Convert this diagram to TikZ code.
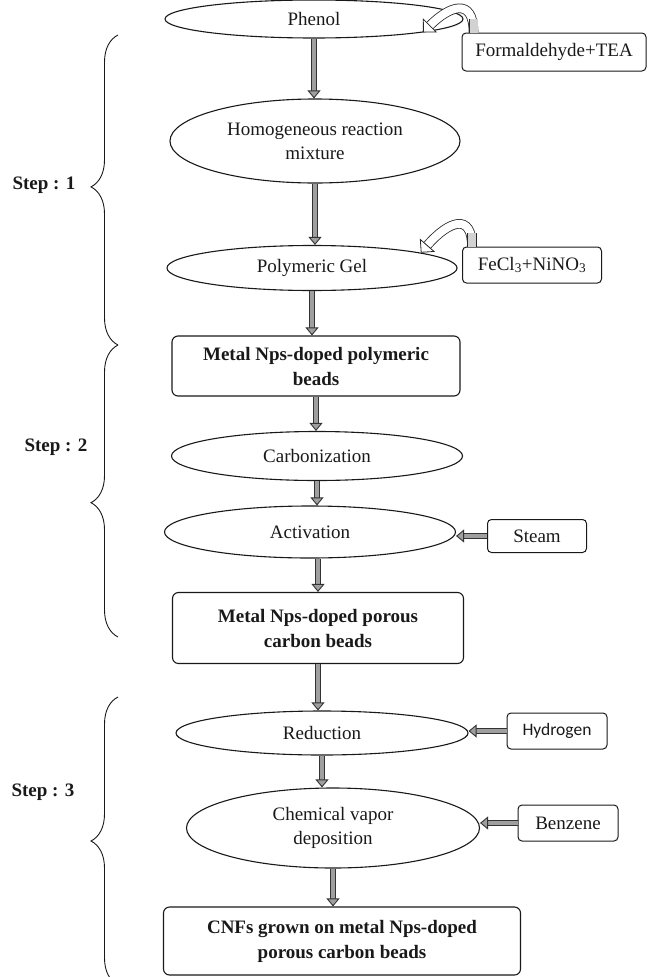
\documentclass[tikz,border=0pt]{standalone}
\usepackage{fontspec}
\setmainfont{Liberation Serif}
\newfontfamily\calibrifont{Carlito}
\usetikzlibrary{shapes.geometric,arrows.meta,decorations.pathreplacing,calc}

\begin{document}
\begin{tikzpicture}[x=1pt,y=-1pt,
  every node/.style={font=\fontsize{19}{24}\selectfont,text=black!90,align=center},
  oval/.style={ellipse,draw=black!90,line width=1.1pt,inner sep=0pt},
  stage/.style={draw=black!90,rounded corners=6pt,line width=1.1pt,inner sep=0pt,font=\fontsize{19}{25}\selectfont\bfseries},
  feed/.style={draw=black!90,rounded corners=4pt,line width=1pt,inner sep=0pt},
  flow/.style={draw=black!80,line width=0.9pt,double=gray!75,double distance=4.5pt,-{Triangle[length=8pt,width=13pt,fill=gray!75]}},
  curl/.style={draw=black!85,line width=0.8pt,double=white,double distance=8pt,-{Triangle[length=10pt,width=20pt,fill=white]}},
  curlback/.style={draw=black!85,line width=0.8pt,double=gray!35,double distance=8pt},
  stepbrace/.style={decorate,decoration={brace,amplitude=27pt},line width=0.9pt,draw=black!90},
  steplabel/.style={font=\fontsize{19}{24}\selectfont\bfseries}]
\useasboundingbox (0,0) rectangle (648,977);

% step 1
\node[oval,minimum width=298pt,minimum height=38pt] (phenol) at (314,19) {Phenol};
\node[feed,minimum width=184pt,minimum height=38pt] (fta) at (554,52) {Formaldehyde+TEA};
\node[oval,minimum width=290pt,minimum height=84pt] (homog) at (315,141) {Homogeneous reaction\\mixture};
\node[oval,minimum width=290pt,minimum height=45pt] (gel) at (312,268) {Polymeric Gel};
\node[feed,minimum width=139pt,minimum height=36pt] (fecl) at (532,265) {FeCl\textsubscript{3}+NiNO\textsubscript{3}};
\node[stage,minimum width=288pt,minimum height=60pt] (polybeads) at (316,366) {Metal Nps-doped polymeric\\beads};

% step 2
\node[oval,minimum width=291pt,minimum height=49pt] (carbon) at (317,456) {Carbonization};
\node[oval,minimum width=291pt,minimum height=52pt] (activ) at (310,532) {Activation};
\node[feed,minimum width=99pt,minimum height=33pt] (steam) at (537,536) {Steam};
\node[stage,minimum width=291pt,minimum height=71pt] (porbeads) at (318,628) {Metal Nps-doped porous\\carbon beads};

% step 3
\node[oval,minimum width=292pt,minimum height=44pt] (reduc) at (322,733) {Reduction};
\node[feed,minimum width=100pt,minimum height=36pt,font=\calibrifont\fontsize{17.5}{20}\selectfont] (hydro) at (557,731) {Hydrogen};
\node[oval,minimum width=293pt,minimum height=80pt] (cvd) at (333,828) {Chemical vapor\\deposition};
\node[feed,minimum width=100pt,minimum height=36pt] (benz) at (568,823) {Benzene};
\node[stage,minimum width=357pt,minimum height=68pt] (cnf) at (342,941) {CNFs grown on metal Nps-doped\\porous carbon beads};

\node[steplabel] (stepa) at (44,185) {Step : 1};
\node[steplabel] (stepb) at (56,447) {Step : 2};
\node[steplabel] (stepc) at (43,792) {Step : 3};

\draw[stepbrace,decoration={aspect=0.51}] (118,345) -- (118,35);
\draw[stepbrace,decoration={aspect=0.46}] (118,637) -- (118,345);
\draw[stepbrace,decoration={aspect=0.50}] (118,985) -- (118,697);

\draw[flow] (phenol.south) -- (phenol.south |- homog.north);
\draw[flow] (homog.south) -- (homog.south |- gel.north);
\draw[flow] (gel.south) -- (gel.south |- polybeads.north);
\draw[flow] (polybeads.south) -- (polybeads.south |- carbon.north);
\draw[flow] (carbon.south) -- (carbon.south |- activ.north);
\draw[flow] (porbeads.north |- activ.south) -- (porbeads.north);
\draw[flow] (porbeads.south) -- (porbeads.south |- reduc.north);
\draw[flow] (reduc.south) -- (reduc.south |- cvd.north);
\draw[flow] (cvd.south) -- (cvd.south |- cnf.north);

\draw[flow] (steam.west) -- (steam.west -| activ.east);
\draw[flow] (hydro.west) -- (hydro.west -| reduc.east);
\draw[flow] (benz.west) -- (benz.west -| cvd.east);

\draw[curl] ($(fta.north west)+(12,0)$) .. controls +(0,-36) and +(26,-26) .. (phenol.-7);
\draw[curlback] ($(fta.north west)+(12,0)$) -- ++(0,-14);
\draw[curl] ($(fecl.north west)+(10,0)$) .. controls +(0,-34) and +(28,-32) .. (gel.8);
\draw[curlback] ($(fecl.north west)+(10,0)$) -- ++(0,-14);
\end{tikzpicture}
\end{document}
